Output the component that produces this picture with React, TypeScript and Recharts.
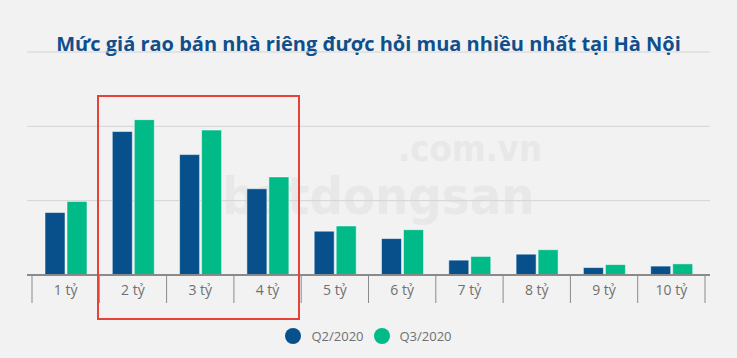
import React from "react";
import { BarChart, Bar, XAxis, YAxis, CartesianGrid } from "recharts";

const categories = ["1 tỷ", "2 tỷ", "3 tỷ", "4 tỷ", "5 tỷ", "6 tỷ", "7 tỷ", "8 tỷ", "9 tỷ", "10 tỷ"];
const q2Values = [8.4, 19.3, 16.2, 11.6, 5.9, 4.9, 2.0, 2.8, 1.0, 1.2];
const q3Values = [9.9, 20.9, 19.5, 13.2, 6.6, 6.1, 2.5, 3.4, 1.4, 1.5];
const yTicks = [0, 10, 20];

const seriesList = [
    { key: "q2", name: "Q2/2020", color: "#07508b" },
    { key: "q3", name: "Q3/2020", color: "#00ba87" },
];

const FONT = "'Open Sans', sans-serif";

const chartData = categories.map((cat, i) => ({
    cat,
    q2: q2Values[i],
    q3: q3Values[i],
}));

// tick marks sit between categories (like tickmarkPlacement "between")
function BetweenTick(props: any) {
    const { x, y, payload, index, visibleTicksCount } = props;
    const half = payload.offset || 0;
    const isLast = index === visibleTicksCount - 1;
    return (
        <g>
            <line x1={x - half} x2={x - half} y1={y} y2={y + 28} stroke="#8a8a8a" strokeWidth={1} />
            {isLast && (
                <line x1={x + half} x2={x + half} y1={y} y2={y + 28} stroke="#8a8a8a" strokeWidth={1} />
            )}
            <text
                x={x}
                y={y + 20}
                textAnchor="middle"
                fill="#707070"
                fontSize={14}
                fontFamily={FONT}
            >
                {payload.value}
            </text>
        </g>
    );
}

export default function App() {
    return (
        <div
            style={{
                position: "absolute",
                top: 0,
                left: 0,
                width: 737,
                height: 358,
                background: "#f2f2f2",
                fontFamily: FONT,
                overflow: "hidden",
            }}
        >
            {/* faint watermark */}
            <div
                style={{
                    position: "absolute",
                    left: 398,
                    top: 128,
                    fontFamily: "'DejaVu Sans Condensed', sans-serif",
                    fontWeight: 700,
                    fontSize: 36,
                    color: "#e8e8e8",
                }}
            >
                .com.vn
            </div>
            <div
                style={{
                    position: "absolute",
                    left: 222,
                    top: 166,
                    fontFamily: "'DejaVu Sans Condensed', sans-serif",
                    fontWeight: 700,
                    fontSize: 52,
                    color: "#e8e8e8",
                }}
            >
                batdongsan
            </div>

            <div
                style={{
                    position: "absolute",
                    top: 30,
                    left: 0,
                    width: 737,
                    textAlign: "center",
                    fontSize: 20,
                    fontWeight: 700,
                    color: "#0f4f8c",
                }}
            >
                Mức giá rao bán nhà riêng được hỏi mua nhiều nhất tại Hà Nội
            </div>

            <div style={{ position: "absolute", top: 0, left: 0 }}>
                <BarChart
                    width={737}
                    height={358}
                    data={chartData}
                    margin={{ top: 52, right: 27, left: 27, bottom: 53 }}
                    barGap={2}
                    barCategoryGap="18%"
                >
                    <CartesianGrid vertical={false} stroke="#d4d4d4" strokeWidth={1} />
                    <YAxis hide domain={[0, 30]} ticks={yTicks} />
                    <XAxis
                        dataKey="cat"
                        height={30}
                        padding={{ left: 5, right: 5 }}
                        axisLine={{ stroke: "#8a8a8a", strokeWidth: 2 }}
                        tickLine={false}
                        tickSize={0}
                        tickMargin={0}
                        interval={0}
                        tick={<BetweenTick />}
                    />
                    {seriesList.map(s => (
                        <Bar
                            key={s.key}
                            dataKey={s.key}
                            name={s.name}
                            fill={s.color}
                            barSize={20}
                            stroke="#ffffff"
                            strokeOpacity={0.5}
                            strokeWidth={1}
                            isAnimationActive={false}
                        />
                    ))}
                </BarChart>
            </div>

            {/* highlight box around 2-4 tỷ */}
            <div
                style={{
                    position: "absolute",
                    left: 97,
                    top: 95,
                    width: 203,
                    height: 225,
                    border: "2px solid #e8413a",
                    boxSizing: "border-box",
                    pointerEvents: "none",
                }}
            />

            <div
                style={{
                    position: "absolute",
                    top: 327,
                    left: 0,
                    width: 737,
                    display: "flex",
                    justifyContent: "center",
                    gap: 10,
                    fontSize: 13,
                    color: "#707070",
                }}
            >
                {seriesList.map(s => (
                    <div key={s.key} style={{ display: "flex", alignItems: "center" }}>
                        <span
                            style={{
                                display: "inline-block",
                                width: 16,
                                height: 16,
                                borderRadius: 8,
                                background: s.color,
                                marginRight: 10,
                            }}
                        />
                        {s.name}
                    </div>
                ))}
            </div>
        </div>
    );
}
